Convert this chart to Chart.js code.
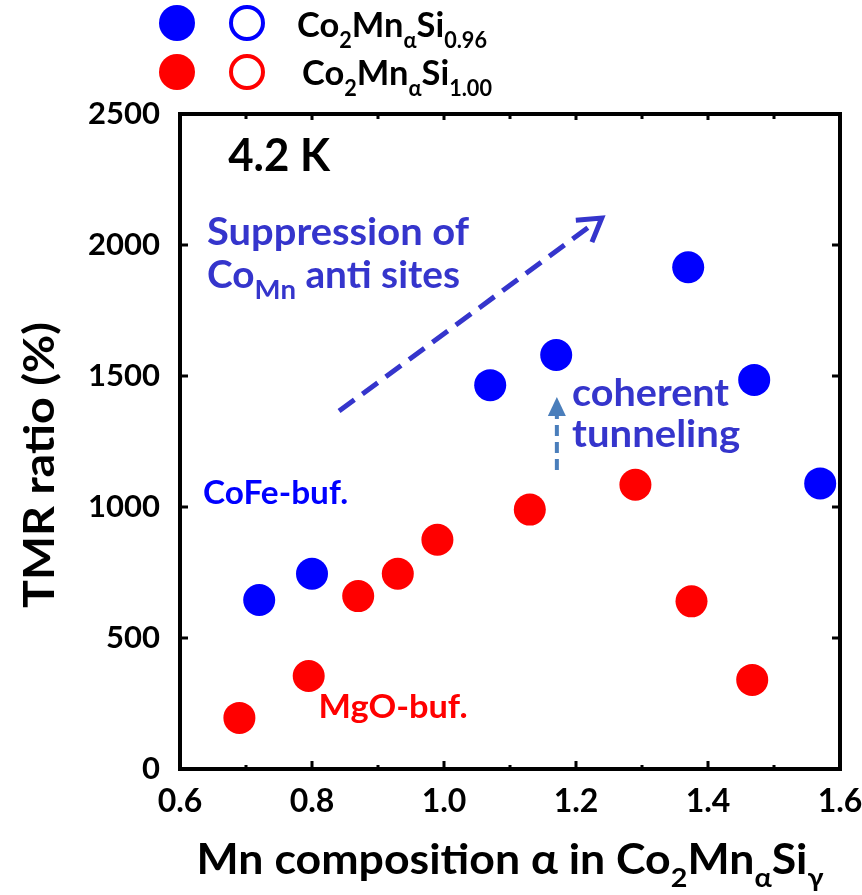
<!DOCTYPE html>
<html>
<head>
<meta charset="utf-8">
<script src="https://cdn.jsdelivr.net/npm/chart.js@4.4.1/dist/chart.umd.min.js"></script>
<style>
  html, body { margin: 0; padding: 0; background: #fff; }
  #wrap { width: 862px; height: 895px; }
</style>
</head>
<body>
<div id="wrap"><canvas id="tmrChart" width="862" height="895"></canvas></div>
<script>
(function () {
    'use strict';

    // Co2MnαSi0.96 on CoFe buffer (blue)
    const blueAlpha = [0.72, 0.80, 1.07, 1.17, 1.37, 1.47, 1.57];
    const blueTmr = [645, 745, 1465, 1580, 1915, 1485, 1090];
    // Co2MnαSi1.00 on MgO buffer (red)
    const redAlpha = [0.69, 0.795, 0.87, 0.93, 0.99, 1.13, 1.29, 1.375, 1.467];
    const redTmr = [195, 355, 660, 745, 875, 990, 1085, 640, 340];

    const xTicks = [0.6, 0.8, 1.0, 1.2, 1.4, 1.6];
    const xMinor = [0.7, 0.9, 1.1, 1.3, 1.5];
    const yTicks = [0, 500, 1000, 1500, 2000, 2500];

    const FONT = 'Lato, "Open Sans", sans-serif';
    const BLUE = '#0000ff';
    const RED = '#ff0000';
    const INDIGO = '#3535cc';
    const STEEL = '#4a7ebb';

    function pts(xs, ys) {
        return xs.map(function (x, i) { return { x: x, y: ys[i] }; });
    }

    // draw text made of [string, isSub] parts, squeezed/stretched to a target width
    function drawRich(ctx, parts, x, y, o) {
        const fs = o.size;
        const ss = Math.round(fs * (o.subScale || 0.64));
        let w = 0;
        parts.forEach(function (p) {
            ctx.font = 'bold ' + (p[1] ? ss : fs) + 'px ' + FONT;
            w += ctx.measureText(p[0]).width;
        });
        const sx = o.width ? o.width / w : 1;
        ctx.save();
        ctx.translate(x, y);
        if (o.rotate) ctx.rotate(o.rotate);
        ctx.scale(sx, 1);
        let cx = o.align === 'center' ? -w / 2 : 0;
        ctx.fillStyle = o.color || '#000';
        ctx.textAlign = 'left';
        ctx.textBaseline = 'alphabetic';
        parts.forEach(function (p) {
            ctx.font = 'bold ' + (p[1] ? ss : fs) + 'px ' + FONT;
            ctx.fillText(p[0], cx, p[1] ? fs * 0.3 : 0);
            cx += ctx.measureText(p[0]).width;
        });
        ctx.restore();
    }

    const decorPlugin = {
        id: 'decor',
        afterDraw: function (chart) {
            const ctx = chart.ctx;
            const a = chart.chartArea;
            const xs = chart.scales.x;
            const ys = chart.scales.y;
            const px = function (v) { return xs.getPixelForValue(v); };
            const py = function (v) { return ys.getPixelForValue(v); };

            ctx.save();
            // frame
            ctx.strokeStyle = '#000';
            ctx.lineWidth = 4;
            ctx.strokeRect(a.left, a.top, a.right - a.left, a.bottom - a.top);

            // inward ticks
            ctx.lineWidth = 3;
            ctx.beginPath();
            xTicks.forEach(function (v) {
                const x = px(v);
                ctx.moveTo(x, a.bottom); ctx.lineTo(x, a.bottom - 8);
                ctx.moveTo(x, a.top); ctx.lineTo(x, a.top + 6);
            });
            xMinor.forEach(function (v) {
                const x = px(v);
                ctx.moveTo(x, a.bottom); ctx.lineTo(x, a.bottom - 4);
                ctx.moveTo(x, a.top); ctx.lineTo(x, a.top + 5);
            });
            yTicks.forEach(function (v) {
                const y = py(v);
                ctx.moveTo(a.left, y); ctx.lineTo(a.left + 8, y);
                ctx.moveTo(a.right, y); ctx.lineTo(a.right - 8, y);
            });
            ctx.stroke();

            // big dashed arrow
            const x0 = px(0.841), y0 = py(1366), x1 = px(1.239), y1 = py(2103);
            ctx.strokeStyle = INDIGO;
            ctx.lineWidth = 5;
            ctx.setLineDash([19, 10]);
            ctx.beginPath();
            ctx.moveTo(x0, y0); ctx.lineTo(x1 - 6, y1 + 4);
            ctx.stroke();
            ctx.setLineDash([]);
            const ang = Math.atan2(y1 - y0, x1 - x0);
            ctx.beginPath();
            ctx.moveTo(x1 - 26 * Math.cos(ang - 0.55), y1 - 26 * Math.sin(ang - 0.55));
            ctx.lineTo(x1, y1);
            ctx.lineTo(x1 - 26 * Math.cos(ang + 0.55), y1 - 26 * Math.sin(ang + 0.55));
            ctx.stroke();

            // small dashed arrow
            const sx = px(1.171), sy0 = py(1141), sy1 = py(1420);
            ctx.strokeStyle = STEEL;
            ctx.fillStyle = STEEL;
            ctx.lineWidth = 4;
            ctx.setLineDash([11, 6]);
            ctx.beginPath();
            ctx.moveTo(sx, sy0); ctx.lineTo(sx, sy1 + 16);
            ctx.stroke();
            ctx.setLineDash([]);
            ctx.beginPath();
            ctx.moveTo(sx, sy1);
            ctx.lineTo(sx - 9, sy1 + 19);
            ctx.lineTo(sx + 9, sy1 + 19);
            ctx.closePath();
            ctx.fill();
            ctx.restore();

            // annotations
            drawRich(ctx, [['4.2 K']], px(0.673), py(2282), { size: 46, width: 102 });
            drawRich(ctx, [['Suppression of']], px(0.641), py(2000), { size: 38, width: 262, color: INDIGO });
            drawRich(ctx, [['Co'], ['Mn', 1], [' an\u200Cti sites']], px(0.641), py(1836), { size: 38, width: 253, color: INDIGO, subScale: 0.7 });
            drawRich(ctx, [['coherent']], px(1.194), py(1386), { size: 38, width: 157, color: INDIGO });
            drawRich(ctx, [['tunneling']], px(1.194), py(1229), { size: 38, width: 168, color: INDIGO });
            drawRich(ctx, [['CoFe-buf.']], px(0.635), py(1011), { size: 33, width: 145, color: BLUE });
            drawRich(ctx, [['MgO-buf.']], px(0.81), py(195), { size: 33, width: 149, color: RED });

            // axis titles
            drawRich(ctx, [['Mn composition α in Co'], ['2', 1], ['Mn'], ['α', 1], ['Si'], ['γ', 1]],
                (a.left + a.right) / 2, 874, { size: 42, width: 627, align: 'center' });
            drawRich(ctx, [['TMR ratio (%)']], 54, 465, { size: 42, width: 286, align: 'center', rotate: -Math.PI / 2 });

            // legend
            ctx.save();
            [[BLUE, 23], [RED, 72]].forEach(function (r) {
                ctx.fillStyle = r[0];
                ctx.beginPath(); ctx.arc(177, r[1], 18, 0, Math.PI * 2); ctx.fill();
                ctx.strokeStyle = r[0];
                ctx.lineWidth = 4;
                ctx.beginPath(); ctx.arc(247, r[1], 16, 0, Math.PI * 2); ctx.stroke();
            });
            ctx.restore();
            drawRich(ctx, [['Co'], ['2', 1], ['Mn'], ['α', 1], ['Si'], ['0.96', 1]], 297, 37, { size: 35, width: 190 });
            drawRich(ctx, [['Co'], ['2', 1], ['Mn'], ['α', 1], ['Si'], ['1.00', 1]], 302, 85, { size: 35, width: 190 });
        }
    };

    const ctx = document.getElementById('tmrChart').getContext('2d');
    new Chart(ctx, {
        type: 'scatter',
        data: {
            datasets: [
                {
                    label: 'Co2MnαSi0.96',
                    data: pts(blueAlpha, blueTmr),
                    backgroundColor: BLUE,
                    borderWidth: 0,
                    pointRadius: 16,
                    pointHoverRadius: 16
                },
                {
                    label: 'Co2MnαSi1.00',
                    data: pts(redAlpha, redTmr),
                    backgroundColor: RED,
                    borderWidth: 0,
                    pointRadius: 16,
                    pointHoverRadius: 16
                }
            ]
        },
        options: {
            responsive: false,
            animation: false,
            layout: { padding: { left: 0, top: 114, right: 22, bottom: 0 } },
            plugins: { legend: { display: false }, tooltip: { enabled: false } },
            scales: {
                x: {
                    type: 'linear',
                    min: 0.6,
                    max: 1.6,
                    afterBuildTicks: function (s) { s.ticks = xTicks.map(function (v) { return { value: v }; }); },
                    afterFit: function (s) {
                        s.height = 126;
                        s.paddingLeft = 0;
                        s.paddingRight = 0;
                    },
                    grid: { display: false, drawTicks: false },
                    border: { display: false },
                    ticks: {
                        padding: 13,
                        color: '#000',
                        font: { family: FONT, weight: 'bold', size: 32 },
                        callback: function (v) { return Number(v).toFixed(1); }
                    }
                },
                y: {
                    type: 'linear',
                    min: 0,
                    max: 2500,
                    afterBuildTicks: function (s) { s.ticks = yTicks.map(function (v) { return { value: v }; }); },
                    afterFit: function (s) {
                        s.width = 180;
                        s.paddingTop = 0;
                        s.paddingBottom = 0;
                    },
                    grid: { display: false, drawTicks: false },
                    border: { display: false },
                    ticks: {
                        padding: 20,
                        color: '#000',
                        font: { family: FONT, weight: 'bold', size: 31 },
                        callback: function (v) { return String(v); }
                    }
                }
            }
        },
        plugins: [decorPlugin]
    });
})();
</script>
</body>
</html>
